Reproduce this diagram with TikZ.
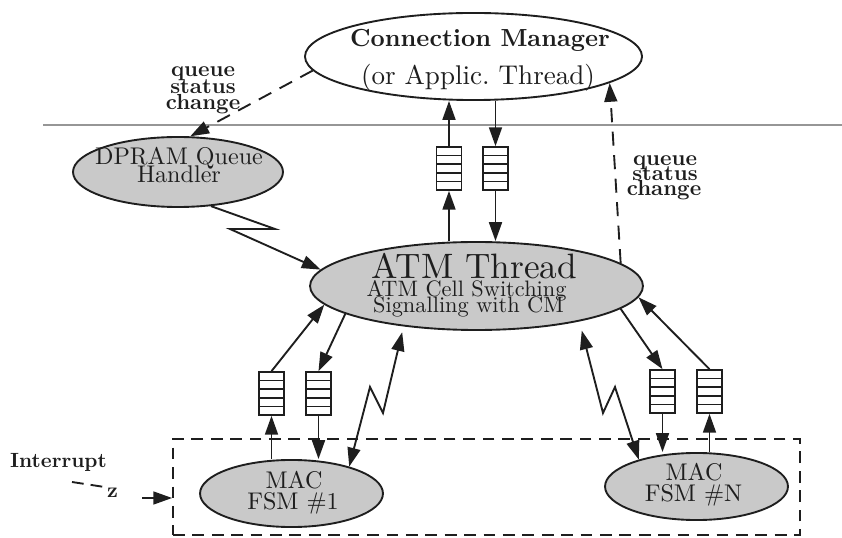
\documentclass[tikz,border=0pt]{standalone}
\usepackage{fontspec}
% one design size of Latin Modern at every size: heavier strokes when enlarged
\setmainfont{lmroman10-regular.otf}[BoldFont=lmroman10-bold.otf]
\usetikzlibrary{arrows.meta,shapes.geometric}

\definecolor{procfill}{RGB}{201,201,201}
\definecolor{rulegray}{RGB}{150,150,150}
\definecolor{ink}{RGB}{30,30,30}

\begin{document}
\begin{tikzpicture}[x=0.85pt,y=-0.85pt,
  flow/.style={draw=ink, line width=1.6pt},
  arr/.style={-{Triangle[length=16pt,width=11pt]}},
  darr/.style={{Triangle[length=16pt,width=11pt]}-{Triangle[length=16pt,width=11pt]}},
  dashline/.style={dash pattern=on 12pt off 8pt},
  proc/.style={ellipse, draw=ink, fill=procfill, line width=1.6pt, inner sep=0pt},
  fifo/.style={rectangle, draw=ink, fill=white, line width=1.4pt, inner sep=0pt,
    minimum width=21.25pt, minimum height=36.55pt,
    path picture={\foreach \k in {1,2,3,4}{
      \draw[ink, line width=1.3pt]
        ([yshift=-\k*7.31pt]path picture bounding box.north west) --
        ([yshift=-\k*7.31pt]path picture bounding box.north east);}}},
  txt/.style={inner sep=0pt, anchor=base, text=ink},
  big/.style={font=\fontsize{30}{30}\selectfont},
  mid/.style={font=\fontsize{20.5}{20}\selectfont},
  sub/.style={font=\fontsize{19}{19}\selectfont},
  tag/.style={font=\fontsize{18.5}{18}\selectfont\bfseries},
]
\useasboundingbox (0,0) rectangle (842,538);

% boundary between the application level and the driver level
\draw[rulegray, line width=1pt] (43,125) -- (842,125);

% dashed frame around the MAC state machines
\node[draw=ink, line width=1.5pt, dash pattern=on 10pt off 6.5pt,
      minimum width=533pt, minimum height=81.6pt, inner sep=0pt] (frame) at (486.5,487) {};

% processes
\node[proc, fill=white, minimum width=286.5pt, minimum height=74pt] (cm) at (473.5,56.5) {};
\node[proc, minimum width=178.5pt, minimum height=59.5pt] (dpram) at (178,172) {};
\node[proc, minimum width=283pt, minimum height=74.8pt] (atm) at (476.5,286) {};
\node[proc, minimum width=155.5pt, minimum height=57pt] (mac1) at (291.5,493.5) {};
\node[proc, minimum width=155.5pt, minimum height=57pt] (macn) at (696.5,486.5) {};

% process labels
\node[txt, font=\fontsize{21}{21}\selectfont\bfseries] (cmA) at (480,47) {Connection Manager};
\node[txt, font=\fontsize{23}{23}\selectfont] (cmB) at (478,85) {(or Applic.\ Thread)};
\node[txt, mid] (dpramA) at (179,165) {DPRAM Queue};
\node[txt, mid] (dpramB) at (179,183) {Handler};
\node[txt, big] (atmA) at (474.5,279) {ATM Thread};
\node[txt, sub] (atmB) at (466.5,297) {ATM Cell Switching};
\node[txt, sub] (atmC) at (468.5,313) {Signalling with CM};
\node[txt, mid] (mac1A) at (294,488) {MAC};
\node[txt, mid] (mac1B) at (293,509) {FSM \#1};
\node[txt, mid] (macnA) at (694,480) {MAC};
\node[txt, mid] (macnB) at (693.5,501) {FSM \#N};

% status-change labels
\node[txt, tag] (qsLa) at (203,77) {queue};
\node[txt, tag] (qsLb) at (203,94) {status};
\node[txt, tag] (qsLc) at (203,110) {change};
\node[txt, tag] (qsRa) at (665,166) {queue};
\node[txt, tag] (qsRb) at (665,181) {status};
\node[txt, tag] (qsRc) at (664,196) {change};

% interrupt input
\node[txt, font=\fontsize{17.5}{18}\selectfont\bfseries] (intr) at (58.5,467) {Interrupt};
\node[txt, font=\fontsize{18}{18}\selectfont\bfseries] (zmark) at (112.5,497) {z};

% FIFO queues
\node[fifo] (q1) at (449,168.5) {};
\node[fifo] (q2) at (495.5,168.5) {};
\node[fifo] (qa) at (271.5,393.5) {};
\node[fifo] (qb) at (318.5,393.5) {};
\node[fifo] (qc) at (662.5,391.5) {};
\node[fifo] (qd) at (709.5,391.5) {};

% bends of the signal (lightning) connectors
\coordinate (zd1) at (275,229);
\coordinate (zd2) at (230,229);
\coordinate (zl1) at (383,413);
\coordinate (zl2) at (370,387);
\coordinate (zr1) at (603,413);
\coordinate (zr2) at (615,387);
\coordinate (inttail) at (72,482);
\coordinate (irqstart) at (142,498);

% ATM thread <-> connection manager
\draw[flow,arr] (q1.south |- atm.north) -- (q1.south);
\draw[flow,arr] (q1.north) -- (q1.north |- cm.south);
\draw[flow,arr] (q2.north |- cm.south) -- (q2.north);
\draw[flow,arr] (q2.south) -- (q2.south |- atm.north);

% ATM thread <-> MAC FSM #1
\draw[flow,arr] (qa.south |- mac1.north) -- (qa.south);
\draw[flow,arr] (qa.north) -- (atm.187.4);
\draw[flow,arr] (atm.192.7) -- (qb.north);
\draw[flow,arr] (qb.south) -- (qb.south |- mac1.north);
\draw[flow,darr,shorten >=5pt] (mac1.25) -- (zl2) -- (zl1) -- (atm.209);

% ATM thread <-> MAC FSM #N
\draw[flow,arr] (atm.-9.8) -- (qc.north);
\draw[flow,arr] (qc.south) -- (qc.south |- macn.north);
\draw[flow,arr] (qd.south |- macn.north) -- (qd.south);
\draw[flow,arr] (qd.north) -- (atm.-4.9);
\draw[flow,darr,shorten <=8pt] (atm.-19) -- (zr1) -- (zr2) -- (macn.155);

% DPRAM queue handler signals the ATM thread
\draw[flow,arr] (dpram.-46) -- (zd1) -- (zd2) -- (atm.174.5);

% queue status changes
\draw[flow,arr,dashline] (cm.185.9) -- (dpram.71);
\draw[flow,arr,dashline] (atm.9.1) -- (cm.-11.5);

% interrupt into the MAC frame
\draw[flow, dash pattern=on 10pt off 6pt, shorten >=4pt] (inttail) -- (zmark.north west);
\draw[flow,arr] (irqstart) -- (irqstart -| frame.west);
\end{tikzpicture}
\end{document}
